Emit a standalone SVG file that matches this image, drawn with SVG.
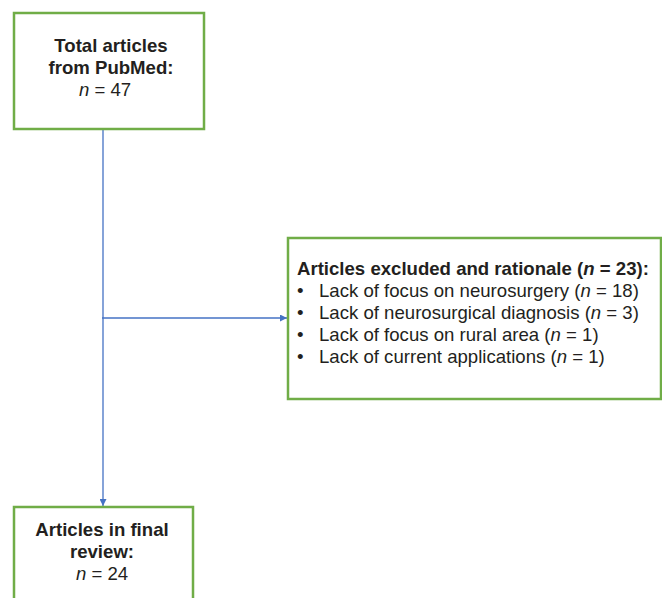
<svg xmlns="http://www.w3.org/2000/svg" width="662" height="598" viewBox="0 0 662 598">
<style>
.box{fill:#fff;stroke:#70AD47;stroke-width:2.5}
.t{font-family:"Liberation Sans",Arial,sans-serif;font-size:18.6px;fill:#231F20}
.b{font-weight:bold}
.c{text-anchor:middle}
.conn{stroke:#4472C4;stroke-width:1.3;fill:none}
</style>
<defs>
<marker id="ah" viewBox="0 0 10 10" refX="10" refY="5" markerWidth="7" markerHeight="7" markerUnits="userSpaceOnUse" orient="auto">
<path d="M0,0 L10,5 L0,10 Z" fill="#4472C4"/>
</marker>
</defs>
<rect width="662" height="598" fill="#fff"/>
<g id="connectors">
<line class="conn" x1="103" y1="129" x2="103" y2="506" marker-end="url(#ah)"/>
<line class="conn" x1="102" y1="318" x2="287" y2="318" marker-end="url(#ah)"/>
</g>
<g id="total">
<rect class="box" x="14" y="13" width="190" height="116"/>
<text class="t b c" x="111" y="52">Total articles</text>
<text class="t b c" x="111" y="74">from PubMed:</text>
<text class="t c" x="105" y="96"><tspan font-style="italic">n</tspan> = 47</text>
</g>
<g id="excluded">
<rect class="box" x="288" y="238" width="373" height="161"/>
<text class="t b" x="297" y="275">Articles excluded and rationale (<tspan font-style="italic">n</tspan> = 23):</text>
<text class="t" x="297" y="297">•</text>
<text class="t" x="319" y="297">Lack of focus on neurosurgery (<tspan font-style="italic">n</tspan> = 18)</text>
<text class="t" x="297" y="319">•</text>
<text class="t" x="319" y="319">Lack of neurosurgical diagnosis (<tspan font-style="italic">n</tspan> = 3)</text>
<text class="t" x="297" y="341">•</text>
<text class="t" x="319" y="341">Lack of focus on rural area (<tspan font-style="italic">n</tspan> = 1)</text>
<text class="t" x="297" y="363">•</text>
<text class="t" x="319" y="363">Lack of current applications (<tspan font-style="italic">n</tspan> = 1)</text>
</g>
<g id="final">
<rect class="box" x="14" y="507" width="179" height="110"/>
<text class="t b c" x="102" y="536">Articles in final</text>
<text class="t b c" x="102" y="558">review:</text>
<text class="t c" x="102" y="580"><tspan font-style="italic">n</tspan> = 24</text>
</g>
</svg>
